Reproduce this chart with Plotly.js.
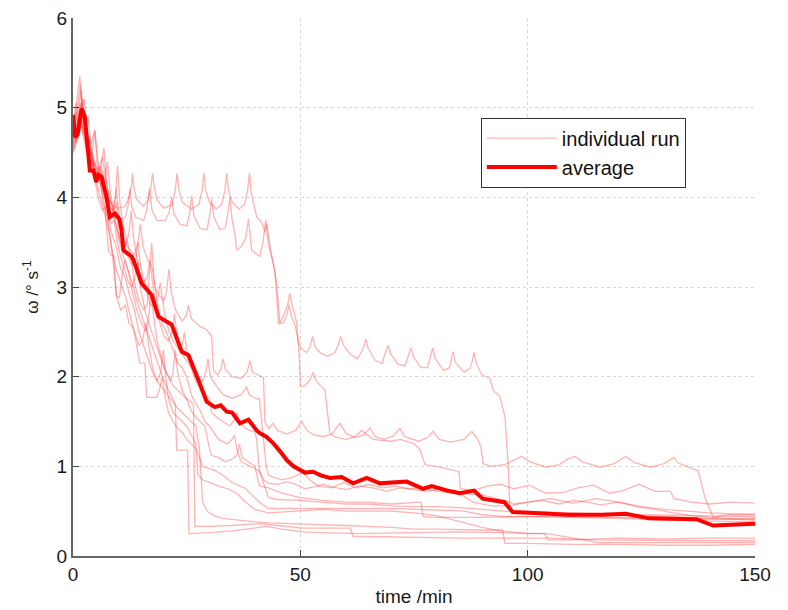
<!DOCTYPE html>
<html>
<head>
<meta charset="utf-8">
<script src="https://cdn.plot.ly/plotly-3.0.1.min.js"></script>
<style>html,body{margin:0;padding:0;background:#fff;}#chart{width:788px;height:610px;}</style>
</head>
<body>
<div id="chart"></div>
<script>
// ---- individual runs (time /min, omega /deg s^-1) ----
const tA = [0,0.5,1,1.5,2,2.5,3,4,5,6,7,8,9,10,11.5,12.3,12.8,13.1,13.4,14,15.5,16.5,17.1,17.5,17.9,18.5,20,21.8,22.5,22.9,23.3,24,26,27.7,28.4,28.8,29.2,30,31.5,32.7,33.4,33.8,34.2,35,36.5,37.7,38.4,38.8,39.2,40,40.4,41.5,42.2,42.6,43,43.5,44,44.8,45.5,46.5,47.3,47.7,48.2,49.2,49.5,50.5,51.4,52.1,52.7,53.3,54.5,56,57.6,58.3,58.9,59.5,61,62.5,63.4,64,64.4,64.9,66.5,68,68.6,69.3,69.9,71.5,73,73.7,74.3,74.9,76.5,78,78.5,79.1,79.7,81.5,82.8,83.2,83.6,84.1,86,87.3,87.8,88.2,88.7,89.9,91.7,92.4,93.9,95,95.7,96.1,97,105,115,125,135,142,150];
const vA = [4.72,4.9,5.15,5.35,5.0,5.1,4.75,4.5,4.35,4.15,4.05,3.95,3.9,3.88,3.9,4.0,4.1,4.27,4.1,3.98,3.9,3.97,4.1,4.27,4.1,3.97,3.88,3.92,4.08,4.27,4.08,3.95,3.87,3.92,4.08,4.27,4.08,3.95,3.87,3.92,4.08,4.27,4.08,3.95,3.87,3.92,4.08,4.27,4.05,3.85,3.78,3.72,3.62,3.7,3.55,3.4,3.27,3.04,2.6,2.7,2.82,2.93,2.8,2.6,2.37,2.3,2.27,2.33,2.45,2.33,2.26,2.23,2.27,2.35,2.45,2.35,2.25,2.2,2.27,2.34,2.42,2.32,2.18,2.15,2.25,2.35,2.25,2.14,2.12,2.22,2.32,2.22,2.1,2.1,2.2,2.32,2.2,2.07,2.1,2.18,2.28,2.16,2.05,2.09,2.17,2.27,2.15,2.02,1.98,1.85,1.78,1.55,1.03,0.51,0.5,0.49,0.47,0.46,0.45,0.44,0.44];

const tB = [0,0.7,1.2,1.8,2.5,3.3,4,5,6,7,8,9,10,11.5,12.1,12.5,12.9,13.8,15.5,16.2,16.8,17.4,18.5,20.3,21.2,21.7,22.2,23.5,25,25.6,26.1,26.6,28,29.5,30,30.5,31,32.3,33.5,34,34.5,35,35.6,36,37,38,38.6,39,39.3,40.5,41.1,41.8,42.4,42.9,43.6,44.4,45.2,46.3,47,47.5,48,48.8,49.6,50,51,52.2,52.8,53.5,55.4,56.5,57.5,60,62,63.5,66,70,72,75,76.3,77.4,80,83.8,84.9,85.2,88,91,94,97,100.4,104,108,111,114.5,118,121,124.5,128,131.4,132.2,136,140,145,150];
const vB = [4.85,4.6,4.95,5.2,4.85,4.9,4.55,4.3,4.2,4.0,3.85,3.78,3.75,3.78,3.9,4.1,3.9,3.78,3.74,3.85,4.1,3.85,3.74,3.74,3.84,4.0,3.82,3.7,3.68,3.8,4.02,3.8,3.65,3.64,3.78,3.98,3.78,3.64,3.66,3.8,4.0,3.75,3.6,3.41,3.45,3.55,3.76,3.55,3.41,3.36,3.34,3.5,3.75,3.5,3.35,3.19,2.59,2.6,2.68,2.8,2.68,2.58,2.4,1.89,1.9,1.97,2.05,1.95,1.85,1.37,1.33,1.3,1.33,1.4,1.3,1.28,1.3,1.25,1.19,1.02,1.0,0.96,0.94,0.75,0.73,0.78,0.8,0.75,0.79,0.7,0.71,0.76,0.79,0.7,0.73,0.8,0.72,0.72,0.64,0.6,0.58,0.6,0.59];

const tC = [0,0.6,1.2,2,2.8,3.5,4.5,5.5,6.5,7.2,8,9,9.5,10.2,11,12,13.5,14.3,14.8,15.4,16.5,17.5,18,19,20,20.6,21.1,21.6,22.5,24,24.9,25.4,26,27.9,29.5,30.5,30.9,31.8,32.5,33,33.5,35,37,38.3,38.9,39.5,41.9,42.2,43,44,45,47,49,50.3,51.5,53,55,57,58.7,60,62,64,65.3,66.5,68.5,70.5,71.9,73,76,78,79.2,80.5,83,86,87.7,89,89.7,90.2,92,95,97,98.7,100.5,104,107,108.8,110.4,112,116,119,121.6,123.5,127,130,132.2,133,135,137.5,139,140.8,144,150];
const vC = [4.6,4.85,4.7,5.05,4.7,4.6,4.35,4.2,4.3,4.05,3.9,3.85,4.1,3.75,3.55,3.45,3.35,3.5,3.7,3.45,3.3,3.2,3.0,2.9,2.85,2.95,3.2,2.95,2.75,2.62,2.68,2.8,2.65,2.56,2.52,2.45,2.07,2.02,2.08,2.2,2.08,2.0,1.98,2.05,2.18,2.05,1.99,1.5,1.42,1.48,1.4,1.36,1.4,1.5,1.4,1.35,1.33,1.36,1.48,1.37,1.32,1.35,1.43,1.33,1.3,1.34,1.42,1.33,1.28,1.32,1.39,1.3,1.27,1.3,1.39,1.3,1.22,1.03,1.0,1.02,1.07,1.11,1.05,0.99,1.02,1.08,1.11,1.05,0.99,1.03,1.11,1.04,0.99,1.03,1.1,1.04,1.0,0.95,0.65,0.43,0.46,0.46];

const tD = [0,1,2,3,4,4.8,5.5,6,6.8,7.5,8.5,9.5,10.5,11.5,12.3,12.8,13.3,14.5,15.5,16.3,16.9,17.5,18.5,20,21,21.8,22.3,22.8,24,26,27.5,28.5,29.2,29.7,30.2,31.5,33,35,37,37.7,38.2,38.7,40,41,41.6,42.5,43,44,46,48,50,50.5,52,54,57,59.5,62,65,68,71,74,77,80,85,90,95,97,100,105,110,115,120,125,130,135,140,145,150];
const vD = [4.55,4.8,4.95,4.6,4.4,4.75,4.25,4.3,4.55,4.1,3.9,3.7,3.5,3.45,3.6,3.85,3.55,3.2,3.05,3.1,3.3,3.05,2.7,2.45,2.4,2.5,2.7,2.5,2.25,2.1,2.0,1.95,2.05,2.2,2.0,1.9,1.8,1.76,1.8,1.85,1.89,1.8,1.76,1.75,1.45,1.0,0.9,0.88,0.85,0.87,0.92,0.95,0.85,0.78,0.76,0.82,0.76,0.8,0.76,0.78,0.75,0.76,0.72,0.7,0.68,0.62,0.58,0.6,0.64,0.59,0.64,0.6,0.55,0.52,0.5,0.48,0.47,0.47];

const tE = [0,1,1.6,2.4,3.5,4.5,5.5,6.5,7.2,8,9,9.6,10,11,12,13,13.8,14.3,14.8,16,17,18,18.7,19.2,19.7,20.5,22,23.3,24,24.5,25,26,27,28.2,29,30,30.5,31.6,33,34.5,35.5,36,36.6,38,40,40.4,41,41.9,43,45,47,49,51,53,55,57,60,63,66,69,72,75,78,81,84,88,92,96,100,103,107,110,113,116,120,124,128,132,136,140,145,150];
const vE = [4.7,5.0,5.25,4.8,4.65,4.4,4.3,4.45,4.2,4.0,3.85,3.95,3.6,3.4,3.35,3.25,3.3,3.5,3.25,3.0,2.8,2.78,2.9,3.05,2.85,2.6,2.4,2.3,2.35,2.5,2.3,2.1,1.95,1.85,1.8,1.75,1.6,1.55,1.5,1.45,1.52,1.6,1.5,1.42,1.38,1.3,0.95,0.85,0.81,0.8,0.83,0.8,0.75,0.77,0.8,0.77,0.74,0.78,0.76,0.72,0.76,0.74,0.72,0.75,0.73,0.6,0.56,0.56,0.6,0.62,0.58,0.62,0.6,0.57,0.6,0.55,0.52,0.48,0.45,0.43,0.42,0.42];

const tF = [0,1,2,3,4,5,5.7,6.2,7,7.8,8.5,9,9.5,10.2,11,11.5,12.3,13,14,15,16,16.6,17.2,17.8,18.5,19.5,20.5,21.5,22,22.5,23,24,25,26,27,28,29,30,30.5,32,33.5,35,36,36.6,37.2,40,41,43,46,50,55,60,65,70,75,76.5,77,80,90,100,110,120,130,140,150];
const vF = [4.5,4.7,4.9,4.55,4.5,4.2,4.35,4.1,3.9,3.4,3.35,3.35,2.9,2.88,3.2,3.3,3.15,2.95,2.75,2.6,2.5,2.65,2.95,2.65,2.4,2.2,2.05,1.95,2.05,2.3,2.05,1.85,1.75,1.62,1.55,1.5,1.45,1.2,1.12,1.1,1.05,1.08,1.12,1.25,1.1,1.0,0.78,0.76,0.7,0.65,0.62,0.6,0.6,0.58,0.6,0.6,0.44,0.43,0.43,0.44,0.44,0.43,0.42,0.41,0.41];

const tG = [0,0.8,1.5,2.2,3,4,4.8,5.5,6.5,7.5,8.5,9.3,9.8,10.3,11,12,13,13.5,14.5,15.5,16.3,17.3,17.8,18.7,19.5,20.5,22,23,24,25,26,27,28,29,30,32,34,35,35.5,36,37,39,41,43,45,50,55,60,65,70,75,80,85,90,95,100,110,120,130,140,150];
const vG = [4.65,4.9,4.75,5.0,4.7,4.6,4.75,4.4,4.1,3.9,3.8,4.0,4.35,3.95,3.7,3.5,3.25,3.05,2.85,2.75,2.8,3.49,3.1,2.78,2.6,2.5,2.3,2.15,2.1,2.0,1.8,1.7,1.62,1.5,1.45,1.3,1.25,1.3,1.35,1.2,1.05,1.0,0.95,0.65,0.63,0.62,0.6,0.58,0.58,0.56,0.55,0.55,0.54,0.52,0.5,0.48,0.47,0.45,0.44,0.42,0.4];

const tH = [0,0.7,1.3,2,2.8,3.6,4.5,5.5,6.5,7.2,8,8.7,9.6,10.5,11.5,12.3,13.3,14.7,15.8,16.2,18.4,19,19.6,20.2,21,22,23,24,25,27,28.5,29.5,31,33,35,38,41,43,50,55,60,65,70,76,86,90,95,100,110,120,130,140,150];
const vH = [4.8,5.05,4.85,5.1,4.75,4.55,4.3,4.0,3.85,3.9,3.6,3.35,2.89,2.74,2.8,2.6,2.54,2.15,2.15,1.77,1.77,1.85,2.0,1.8,1.6,1.5,1.42,1.38,1.3,1.2,1.0,0.98,0.96,0.9,0.82,0.75,0.6,0.53,0.53,0.53,0.53,0.53,0.53,0.52,0.5,0.46,0.44,0.44,0.43,0.42,0.4,0.39,0.38];

const tI = [0,1,1.6,2.2,3,4,5,5.8,6.5,7.5,8.5,9.5,10.5,11.5,12.5,13.5,14.5,15.5,16.5,17.5,18.5,19.3,19.9,20.4,21,22,23,24,25,26,27,27.5,28.5,30,32,34,36,38,40,43,50,55,60,65,70,75,80,90,94,100,103.7,104.5,110,120,130,140,150];
const vI = [4.6,4.75,5.05,4.7,4.5,4.4,4.25,4.3,3.95,3.8,3.6,3.45,3.2,3.1,2.9,2.75,2.5,2.35,2.2,2.05,1.95,2.05,2.3,2.0,1.75,1.6,1.55,1.5,1.45,1.35,1.25,0.9,0.85,0.82,0.78,0.75,0.7,0.6,0.52,0.48,0.5,0.52,0.5,0.5,0.5,0.48,0.45,0.32,0.28,0.25,0.25,0.18,0.18,0.2,0.19,0.2,0.2];

const tJ = [0,1,2,3,4,5,6,7,8,8.8,9.5,10.5,11.5,12.5,13.5,14.5,15.3,16,16.5,17.5,18.5,20,21,22,23,24,25,26,27,27.8,28.5,29.5,31,33,36,40,43,50,55,60,65,70,75,80,90,94.5,95,100,110,120,130,140,150];
const vJ = [4.5,4.65,4.8,4.55,4.45,4.2,4.0,3.8,3.6,3.35,3.2,3.05,2.9,2.7,2.5,2.35,2.4,2.6,2.4,2.1,1.95,1.85,1.78,1.72,1.65,1.6,1.55,1.5,1.45,1.2,0.6,0.5,0.45,0.42,0.4,0.38,0.37,0.36,0.35,0.34,0.33,0.32,0.3,0.3,0.29,0.29,0.14,0.14,0.13,0.13,0.12,0.12,0.13];

const tK = [0,0.8,1.5,2.3,3,3.8,4.6,5.4,6.2,6.8,7.6,8.4,9,9.6,10.4,11.3,12.2,13,13.8,14.3,14.8,16,17,18,19,20,21,22,23,24,25,26,26.5,26.8,30,35,41,45,50.6,55,61,61.6,70,85,95,105,115,130,140,150];
const vK = [4.55,4.75,4.95,4.7,4.8,4.5,4.3,4.2,4.35,4.05,3.85,3.7,3.75,3.55,3.35,3.2,3.05,3.0,3.15,3.3,3.0,2.7,2.55,2.4,2.25,2.1,2.0,1.9,1.85,1.8,1.75,1.72,1.68,0.33,0.33,0.34,0.36,0.34,0.31,0.31,0.31,0.22,0.21,0.2,0.2,0.2,0.18,0.17,0.17,0.17];

const tL = [0,0.6,1.2,1.9,2.6,3.4,4.2,5,6,7,7.6,8.1,9,10,11,12,13,14,15,16,17,18,19,20,21,22,22.5,22.8,25.2,25.5,30,35,40,42.6,46,50.6,55,63,75,85,94,104.5,110,115.6,125,135,150];
const vL = [4.7,4.95,4.8,5.05,4.75,4.6,4.45,4.3,4.15,4.2,4.4,4.1,3.8,3.55,3.35,3.2,3.05,2.85,2.7,2.55,2.4,2.25,2.1,1.95,1.85,1.75,1.7,1.18,1.18,0.25,0.26,0.28,0.31,0.33,0.3,0.27,0.26,0.25,0.26,0.27,0.26,0.25,0.2,0.15,0.15,0.15,0.15];

// ---- average ----
const tAvg = [0,0.5,1,1.5,1.9,2.6,3.4,3.7,4.5,5.1,5.6,6.3,7.4,8.1,9.2,10.2,10.7,11.1,12.9,13.3,15.1,16.2,17.3,18.8,21,21.7,23.9,25.4,27.6,29.4,31.2,32.5,33.8,35,36.7,38.6,40.4,41.1,42.5,44,45.5,47,48.5,49.9,51,52.8,54.5,56.5,59.1,61.6,64.6,67.5,70,73.4,77,78.9,82.2,85.1,88.2,90.1,94.9,96.7,101.5,108.9,116.3,121.6,126.7,137.1,140.8,150];
const vAvg = [4.92,4.67,4.7,4.84,4.99,4.9,4.53,4.3,4.3,4.17,4.25,4.23,4.0,3.78,3.82,3.76,3.63,3.41,3.34,3.3,3.04,2.98,2.91,2.67,2.61,2.58,2.28,2.24,1.96,1.72,1.66,1.68,1.61,1.6,1.48,1.52,1.4,1.37,1.33,1.26,1.17,1.07,1.0,0.96,0.93,0.94,0.9,0.87,0.88,0.81,0.87,0.81,0.82,0.83,0.75,0.78,0.73,0.7,0.73,0.64,0.6,0.49,0.48,0.46,0.46,0.47,0.42,0.41,0.34,0.36];

const runT = [tA,tB,tC,tD,tE,tF,tG,tH,tI,tJ,tK,tL];
const runV = [vA,vB,vC,vD,vE,vF,vG,vH,vI,vJ,vK,vL];
const legendLabels = ['individual run','average'];
const xTicks = [0,50,100,150];
const yTicks = [0,1,2,3,4,5,6];

const traces = [];
runT.forEach((t, i) => {
  traces.push({
    x: t, y: runV[i], type: 'scatter', mode: 'lines',
    line: {color: 'rgba(255,75,75,0.42)', width: 1.3},
    name: legendLabels[0], legendgroup: 'runs', showlegend: i === 0,
    hoverinfo: 'skip'
  });
});
traces.push({
  x: tAvg, y: vAvg, type: 'scatter', mode: 'lines',
  line: {color: '#ff0000', width: 4},
  name: legendLabels[1], showlegend: true
});

const fam = 'Liberation Sans, Arial, sans-serif';
const tickFont = {family: fam, size: 19, color: '#1a1a1a'};
const layout = {
  width: 788, height: 610,
  margin: {l: 73, r: 33, t: 18, b: 54},
  paper_bgcolor: '#fff', plot_bgcolor: '#fff',
  font: {family: fam, size: 19, color: '#1a1a1a'},
  showlegend: true,
  legend: {
    x: 0.598, y: 0.815, xanchor: 'left', yanchor: 'top',
    bgcolor: '#fff', bordercolor: '#333', borderwidth: 1,
    font: {family: fam, size: 20, color: '#111'},
    tracegroupgap: 0, itemwidth: 70
  },
  xaxis: {
    range: [0, 150], tickvals: xTicks, ticktext: xTicks.map(String),
    ticks: 'inside', ticklen: 6, tickcolor: '#444', tickwidth: 1,
    showline: true, linecolor: '#666', linewidth: 2, mirror: false,
    showgrid: true, gridcolor: '#d6d6d6', griddash: 'dot', gridwidth: 1,
    zeroline: false, tickfont: tickFont,
    title: {text: 'time /min', font: {family: fam, size: 19, color: '#1a1a1a'}, standoff: 6}
  },
  yaxis: {
    range: [0, 6], tickvals: yTicks, ticktext: yTicks.map(String),
    ticks: 'inside', ticklen: 6, tickcolor: '#444', tickwidth: 1,
    showline: true, linecolor: '#666', linewidth: 2, mirror: false,
    showgrid: true, gridcolor: '#d6d6d6', griddash: 'dot', gridwidth: 1,
    zeroline: false, tickfont: tickFont,
    title: {text: 'ω /° s<sup>-1</sup>', font: {family: fam, size: 17, color: '#1a1a1a'}, standoff: 14}
  }
};

Plotly.newPlot('chart', traces, layout, {displayModeBar: false, staticPlot: true});
</script>
</body>
</html>
